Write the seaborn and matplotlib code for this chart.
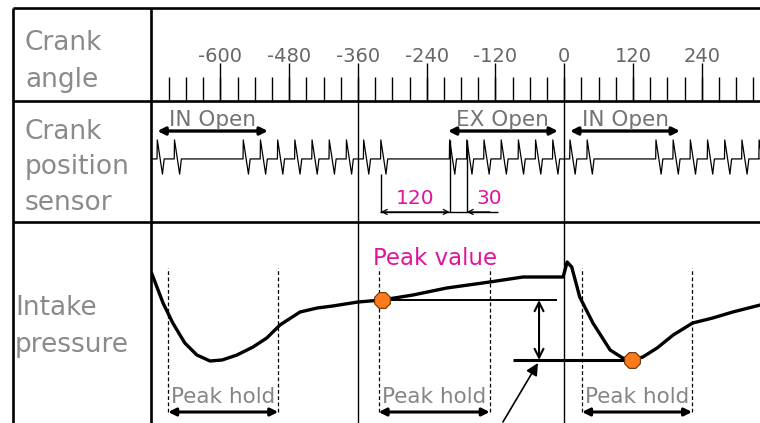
import numpy as np
import pandas as pd
import matplotlib
matplotlib.use("Agg")
import matplotlib.pyplot as plt
import seaborn as sns

sns.set_theme(style="white")
plt.rcParams['font.family'] = ['DejaVu Sans']

# ---------------- data ----------------
row_labels = [["Crank", "angle"], ["Crank", "position", "sensor"], ["Intake", "pressure"]]
angle_labels = [-600, -480, -360, -240, -120, 0, 120, 240]
minor_ticks = list(range(-690, 331, 30))
tdc_lines = [-360, 0]
teeth = [-710, -680, -560, -530, -500, -470, -440, -410, -380, -350, -320,
         -200, -170, -140, -110, -80, -50, -20, 10, 40,
         160, 190, 220, 250, 280, 310, 340]
valve_names = ["IN Open", "EX Open", "IN Open"]
valve_start = [-710, -203, 10]
valve_end = [-517, -11, 202]
gap_names = ["120", "30"]
gap_start = [-320, -200]
gap_end = [-200, -170]
press_angle = [-720, -700, -683, -662, -641, -618, -597, -571, -543, -519, -496,
               -461, -431, -404, -360, -318, -264, -205, -130, -72, -2, 5, 13,
               27, 50, 80, 102, 118, 137, 162, 190, 224, 259, 294, 342]
press_value = [75, 60, 50, 40, 34, 31, 31.5, 34, 38, 42.5, 49,
               55.5, 57.5, 58.5, 60.5, 61.5, 64, 67.5, 70.5, 73, 73, 80.5, 78,
               63, 50, 36.5, 32.5, 31.5, 33, 37.5, 44, 50, 52.5, 55.5, 59]
hold_start = [-691, -324, 31]
hold_end = [-499, -130, 223]
peak_angle, peak_value = -318, 61.5
min_angle, min_value = 118, 31.5

# ---------------- layout ----------------
W, H = 760, 423
fig = plt.figure(figsize=(W / 100, H / 100), dpi=100)
fig.patch.set_facecolor("white")

bg = fig.add_axes([0, 0, 1, 1])
bg.set_xlim(0, W)
bg.set_ylim(H, 0)
bg.axis("off")
frame_lw = 1.9
bg.hlines([8, 101, 222], 13, W, color="black", lw=frame_lw)
bg.vlines([13, 151], 8, H, color="black", lw=frame_lw)

label_color = "#8a8a8a"
label_pos = [(25, [50, 87]), (25, [139, 174, 210]), (15, [315, 352])]
for (lx, bls), words in zip(label_pos, row_labels):
    for b, w in zip(bls, words):
        bg.text(lx, b, w, fontsize=19, color=label_color, ha="left", va="baseline")

xlim = (-721, 341.5)
def px_axes(top, bottom):
    a = fig.add_axes([151 / W, 1 - bottom / H, 1 - 151 / W, (bottom - top) / H])
    a.set_xlim(*xlim)
    a.axis("off")
    a.patch.set_alpha(0)
    return a

# Row 1: crank angle scale
ax1 = px_axes(8, 101)
ax1.set_ylim(0, 1)
ax1.vlines(minor_ticks, 0, 24 / 93, color="black", lw=1.0)
ax1.vlines(angle_labels, 0, 38 / 93, color="black", lw=1.0)
for a in angle_labels:
    ax1.text(a, 39.5 / 93, str(a), fontsize=14, color="#666666",
             ha="center", va="baseline")

# Row 2: crank position sensor
ax2 = px_axes(101, 222)
ax2.set_ylim(-3.32, 3.05)
xs, ys = [xlim[0]], [0]
for t in teeth:
    xs += [t - 0.5, t, t + 9, t + 12]
    ys += [0, 1, -0.8, 0]
xs.append(xlim[1]); ys.append(0)
sig = pd.DataFrame({"angle": xs, "signal": ys})
sns.lineplot(data=sig, x="angle", y="signal", ax=ax2, sort=False,
             estimator=None, color="black", lw=0.9)
ax2.axis("off")
for t in tdc_lines:
    ax2.axvline(t, color="black", lw=1.0)

for name, s, e in zip(valve_names, valve_start, valve_end):
    ax2.annotate("", xy=(e, 1.47), xytext=(s, 1.47),
                 arrowprops=dict(arrowstyle="<|-|>", lw=2.4, color="black",
                                 mutation_scale=11, shrinkA=0, shrinkB=0))
    ax2.text((s + e) / 2, 1.71, name, fontsize=15.5, color="#737373",
             ha="center", va="baseline")

dim_y = -2.79
ax2.hlines(dim_y, gap_start[0] - 1, gap_end[-1] + 55, color="black", lw=1.0)
ax2.vlines(gap_start[0], dim_y, -0.8, color="black", lw=1.0)
ax2.vlines(gap_end, dim_y, 1, color="black", lw=1.0)
ax2.annotate("", xy=(gap_start[0], dim_y), xytext=(gap_end[0], dim_y),
             arrowprops=dict(arrowstyle="<->", lw=0.9, color="black",
                             mutation_scale=9, shrinkA=0, shrinkB=0))
ax2.annotate("", xy=(gap_end[1], dim_y), xytext=(gap_end[1] + 40, dim_y),
             arrowprops=dict(arrowstyle="->", lw=0.9, color="black",
                             mutation_scale=9, shrinkA=0, shrinkB=0))
magenta = "#E0149B"
ax2.text((gap_start[0] + gap_end[0]) / 2, -2.37, gap_names[0], fontsize=14.5,
         color=magenta, ha="center", va="baseline")
ax2.text(gap_end[1] + 40, -2.37, gap_names[1], fontsize=14.5,
         color=magenta, ha="center", va="baseline")

# Row 3: intake pressure
ax3 = px_axes(222, 423)
ax3.set_ylim(0, 100.5)
pr = pd.DataFrame({"angle": press_angle, "pressure": press_value})
sns.lineplot(data=pr, x="angle", y="pressure", ax=ax3, sort=False,
             estimator=None, color="black", lw=2.4)
ax3.axis("off")
for t in tdc_lines:
    ax3.axvline(t, color="black", lw=1.0)

for s, e in zip(hold_start, hold_end):
    ax3.vlines([s, e], 5.5, 77.5, color="black", lw=0.9, linestyles=(0, (3, 2)))
    ax3.annotate("", xy=(e, 5.5), xytext=(s, 5.5),
                 arrowprops=dict(arrowstyle="<|-|>", lw=2.2, color="black",
                                 mutation_scale=11, shrinkA=0, shrinkB=0))
    ax3.text((s + e) / 2, 10, "Peak hold", fontsize=15.5, color="#858585",
             ha="center", va="baseline")

ax3.text(peak_angle - 16, 79, "Peak value", fontsize=16.5, color=magenta,
         ha="left", va="baseline")

ax3.hlines(peak_value, peak_angle, -12.7, color="black", lw=1.4)
ax3.hlines(min_value, -89.5, min_angle, color="black", lw=2.2)
ax3.annotate("", xy=(-44, min_value), xytext=(-44, peak_value),
             arrowprops=dict(arrowstyle="<->", lw=1.5, color="black",
                             mutation_scale=16, shrinkA=0, shrinkB=0))
ax3.annotate("", xy=(-45.9, min_value - 1.5), xytext=(-107, 0.5),
             arrowprops=dict(arrowstyle="-|>", lw=1.2, color="black",
                             mutation_scale=18, shrinkA=0, shrinkB=0))

dots = pd.DataFrame({"angle": [peak_angle, min_angle], "pressure": [peak_value, min_value]})
sns.scatterplot(data=dots, x="angle", y="pressure", ax=ax3, marker="8", s=150,
                color="#FF7A1C", edgecolor="#6a3000", linewidth=0.8, zorder=5)
ax3.axis("off")

fig.savefig("out.png", dpi=100, facecolor="white")
